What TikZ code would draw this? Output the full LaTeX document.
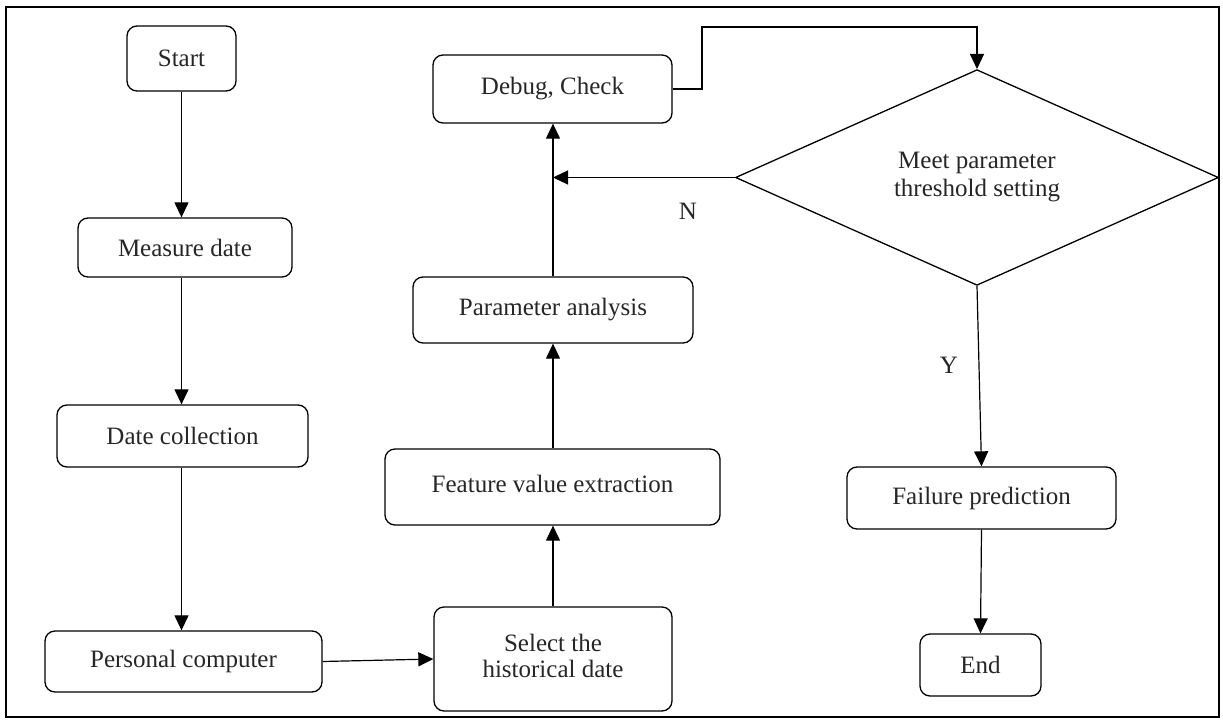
\documentclass[tikz,border=0pt]{standalone}
\usepackage{fontspec}
\setmainfont{Liberation Serif}
\usetikzlibrary{shapes.geometric,arrows.meta}
\begin{document}
\begin{tikzpicture}[x=1pt,y=-1pt,
  box/.style={draw, line width=1.3pt, rounded corners=10pt, inner sep=0pt, align=center,
    font=\fontsize{25}{28}\selectfont, text=black!85},
  dec/.style={draw, line width=1.3pt, diamond, inner sep=0pt, align=center,
    font=\fontsize{25}{28}\selectfont, text=black!85},
  arr/.style={line width=1.2pt, -{Triangle[length=15pt,width=14pt]}},
  lbl/.style={font=\fontsize{25}{28}\selectfont, text=black!85}]
\useasboundingbox (0,0) rectangle (1223,722);
\draw[line width=1.5pt] (6,7) rectangle (1219,717);

\node[box, minimum width=109pt, minimum height=65pt] (start) at (181.5,58.5) {Start};
\node[box, minimum width=214pt, minimum height=59pt] (measure) at (185,247.5) {Measure date};
\node[box, minimum width=251pt, minimum height=62pt] (collect) at (182.5,436) {Date collection};
\node[box, minimum width=277pt, minimum height=61pt] (pc) at (183.5,661.5) {Personal computer};
\node[box, minimum width=238pt, minimum height=104pt] (select) at (553,659) {\raisebox{7pt}{\begin{tabular}{@{}c@{}}Select the\\[-2pt]historical date\end{tabular}}};
\node[box, minimum width=335pt, minimum height=76pt] (fve) at (552.5,487) {\raisebox{7pt}{Feature value extraction}};
\node[box, minimum width=280pt, minimum height=66pt] (pa) at (553,310) {Parameter analysis};
\node[box, minimum width=239pt, minimum height=68pt] (debug) at (552.5,89) {Debug, Check};
\node[dec, minimum width=483pt, minimum height=199pt] (dia) at (977,177.5) {Meet parameter\\threshold setting};
\node[box, minimum width=269pt, minimum height=62pt] (fail) at (981.5,498) {Failure prediction};
\node[box, minimum width=121pt, minimum height=62pt] (end) at (980.5,665) {End};

\node[lbl] (n) at (688,211) {N};
\node[lbl] (y) at (949,365) {Y};

\coordinate (bend) at (702,27);
\coordinate (join) at (553,177.5);

\draw[arr] (start) -- (start.south |- measure.north);
\draw[arr] (measure.south -| start.south) -- (start.south |- collect.north);
\draw[arr] (start.south |- collect.south) -- (start.south |- pc.north);
\draw[arr] (pc.east) -- (select.west);
\draw[arr] (select.north) -- (select.north |- fve.south);
\draw[arr] (select.north |- fve.north) -- (select.north |- pa.south);
\draw[arr] (select.north |- pa.north) -- (select.north |- debug.south);
\draw[arr] (dia.west) -- (join);
\draw[arr] (debug.east) -| (bend) -| (dia.north);
\draw[arr] (dia.south) -- (fail.north);
\draw[arr] (fail.south) -- (end.north);
\end{tikzpicture}
\end{document}
